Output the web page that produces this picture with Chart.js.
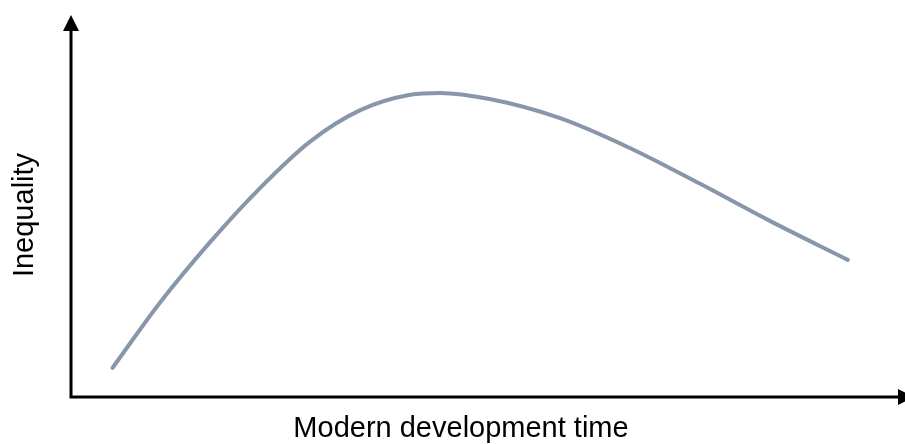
<meta charset="UTF-8">
<style>
    body { margin: 0; background: #fff; }
    #wrap { width: 905px; height: 444px; }
</style>

<div id="wrap"><canvas id="myChart"></canvas></div>

<script src="https://cdn.jsdelivr.net/npm/chart.js@4/dist/chart.umd.min.js"></script>

<script>
    // values (x = time, y = inequality, both 0..100)
    var timeValues = [5.0, 10.7, 16.8, 22.8, 28.8, 34.9, 40.9, 44.5, 50.5, 59.0, 67.4, 75.9, 84.3, 93.7];
    var inequalityValues = [7.6, 24.6, 40.6, 54.7, 66.8, 75.1, 79.1, 79.6, 78.0, 73.0, 65.2, 55.8, 46.1, 35.9];
    var xTitle = 'Modern development time';
    var yTitle = 'Inequality';

    var points = timeValues.map(function (t, i) {
        return { x: t, y: inequalityValues[i] };
    });

    // axes with arrow heads + the two axis titles
    var arrowAxes = {
        id: 'arrowAxes',
        afterDraw: function (chart) {
            var ctx = chart.ctx;
            var a = chart.chartArea;
            ctx.save();
            ctx.strokeStyle = '#000';
            ctx.fillStyle = '#000';
            ctx.lineWidth = 3;
            ctx.beginPath();
            ctx.moveTo(a.left, a.top + 14);
            ctx.lineTo(a.left, a.bottom);
            ctx.lineTo(a.right - 2, a.bottom);
            ctx.stroke();

            // up arrow
            ctx.beginPath();
            ctx.moveTo(a.left, a.top);
            ctx.lineTo(a.left - 8, a.top + 16);
            ctx.lineTo(a.left + 8, a.top + 16);
            ctx.closePath();
            ctx.fill();

            // right arrow
            ctx.beginPath();
            ctx.moveTo(a.right + 14, a.bottom);
            ctx.lineTo(a.right - 2, a.bottom - 8);
            ctx.lineTo(a.right - 2, a.bottom + 8);
            ctx.closePath();
            ctx.fill();

            ctx.font = '29px Arial, "Liberation Sans", sans-serif';
            ctx.textAlign = 'center';
            ctx.textBaseline = 'alphabetic';
            ctx.fillText(xTitle, 461, 437);

            ctx.translate(33, 215);
            ctx.rotate(-Math.PI / 2);
            ctx.fillText(yTitle, 0, 0);
            ctx.restore();
        }
    };

    var ctx = document.getElementById('myChart').getContext('2d');
    var chart = new Chart(ctx, {
        type: 'line',
        data: {
            datasets: [{
                data: points,
                borderColor: 'rgb(136, 150, 170)',
                borderWidth: 4,
                borderCapStyle: 'round',
                pointRadius: 0,
                fill: false,
                cubicInterpolationMode: 'monotone'
            }]
        },
        options: {
            responsive: true,
            maintainAspectRatio: false,
            animation: false,
            layout: { padding: { left: 71, right: 5, top: 15, bottom: 47 } },
            plugins: { legend: { display: false }, tooltip: { enabled: false } },
            scales: {
                x: { type: 'linear', min: 0, max: 100, display: false },
                y: { min: 0, max: 100, display: false }
            }
        },
        plugins: [arrowAxes]
    });
</script>
